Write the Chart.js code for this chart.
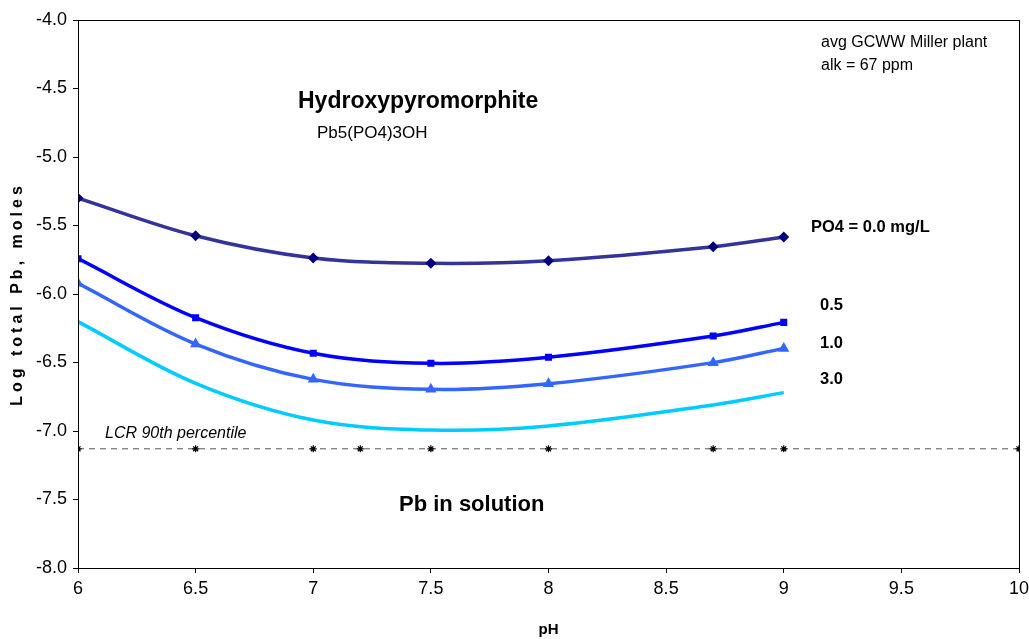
<!DOCTYPE html>
<html lang="en">
<head>
    <meta charset="UTF-8">
    <title>Hydroxypyromorphite solubility</title>
    <style>
        html, body { margin: 0; padding: 0; background: #fff; }
        #wrap { width: 1029px; height: 639px; }
    </style>
</head>
<body>
<div id="wrap"><canvas id="pbChart"></canvas></div>

<script src="https://cdn.jsdelivr.net/npm/chart.js"></script>
<script>
    // pH points where the model was evaluated
    const phValues = [6, 6.5, 7, 7.5, 8, 8.7, 9];

    // log total Pb (moles) for each orthophosphate dose
    const po4_00 = [-5.300, -5.575, -5.737, -5.776, -5.757, -5.655, -5.584];
    const po4_05 = [-5.742, -6.173, -6.433, -6.506, -6.462, -6.307, -6.207];
    const po4_10 = [-5.922, -6.365, -6.623, -6.696, -6.655, -6.501, -6.397];
    const po4_30 = [-6.202, -6.652, -6.920, -6.993, -6.963, -6.810, -6.720];

    // LCR 90th percentile reference line
    const lcrPh = [6, 6.5, 7, 7.2, 7.5, 8, 8.7, 9, 10];
    const lcrValues = [-7.13, -7.13, -7.13, -7.13, -7.13, -7.13, -7.13, -7.13, -7.13];

    const yTicks = [-8.0, -7.5, -7.0, -6.5, -6.0, -5.5, -5.0, -4.5, -4.0];
    const xTicks = [6, 6.5, 7, 7.5, 8, 8.5, 9, 9.5, 10];

    function toPoints(xs, ys) {
        return xs.map((x, i) => ({ x: x, y: ys[i] }));
    }

    const FONT = '"Liberation Sans", Arial, sans-serif';

    // textes libres + cadre du graphique
    const notesPlugin = {
        id: 'notes',
        afterDraw(chart) {
            const ctx = chart.ctx;
            const a = chart.chartArea;
            ctx.save();
            ctx.strokeStyle = '#000';
            ctx.lineWidth = 1;
            ctx.strokeRect(a.left + 0.5, a.top + 0.5, a.right - a.left, a.bottom - a.top);

            ctx.fillStyle = '#000';
            ctx.textBaseline = 'middle';
            ctx.textAlign = 'left';

            ctx.font = 'bold 23px ' + FONT;
            ctx.fillText('Hydroxypyromorphite', 298, 102);
            ctx.font = '17px ' + FONT;
            ctx.fillText('Pb5(PO4)3OH', 317, 133);

            ctx.font = '16px ' + FONT;
            ctx.fillText('avg GCWW Miller plant', 821, 43);
            ctx.fillText('alk = 67 ppm', 821, 66);

            ctx.font = 'bold 16.5px ' + FONT;
            ctx.fillText('PO4 = 0.0 mg/L', 811, 227);
            ctx.fillText('0.5', 820, 305);
            ctx.fillText('1.0', 820, 343);
            ctx.fillText('3.0', 820, 379);

            ctx.font = 'italic 16px ' + FONT;
            ctx.fillText('LCR 90th percentile', 105, 434);

            ctx.font = 'bold 22px ' + FONT;
            ctx.fillText('Pb in solution', 399, 505);

            // titre de l'axe Y (espacé comme dans Excel)
            ctx.translate(18, (a.top + a.bottom) / 2);
            ctx.rotate(-Math.PI / 2);
            ctx.textAlign = 'center';
            ctx.font = 'bold 16px ' + FONT;
            ctx.letterSpacing = '4px';
            ctx.fillText('Log total Pb, moles', 0, 0);
            ctx.restore();
        }
    };

    const ctx = document.getElementById('pbChart').getContext('2d');
    new Chart(ctx, {
        type: 'scatter',
        data: {
            datasets: [
                {
                    label: 'PO4 = 0.0 mg/L',
                    data: toPoints(phValues, po4_00),
                    showLine: true,
                    borderColor: '#333399',
                    borderWidth: 3.5,
                    pointStyle: 'rectRot',
                    pointRadius: 3,
                    pointBackgroundColor: '#000080',
                    pointBorderColor: '#000080',
                    tension: 0.35
                },
                {
                    label: '0.5',
                    data: toPoints(phValues, po4_05),
                    showLine: true,
                    borderColor: '#0000FF',
                    borderWidth: 3.5,
                    pointStyle: 'rect',
                    pointRadius: 2.5,
                    pointBackgroundColor: '#0000FF',
                    pointBorderColor: '#0000FF',
                    tension: 0.35
                },
                {
                    label: '1.0',
                    data: toPoints(phValues, po4_10),
                    showLine: true,
                    borderColor: '#3366FF',
                    borderWidth: 3.5,
                    pointStyle: 'triangle',
                    pointRadius: 3,
                    pointBackgroundColor: '#3366FF',
                    pointBorderColor: '#3366FF',
                    tension: 0.35
                },
                {
                    label: '3.0',
                    data: toPoints(phValues, po4_30),
                    showLine: true,
                    borderColor: '#00CCFF',
                    borderWidth: 3.5,
                    pointRadius: 0,
                    tension: 0.35
                },
                {
                    label: 'LCR 90th percentile',
                    data: toPoints(lcrPh, lcrValues),
                    showLine: true,
                    borderColor: '#555555',
                    borderWidth: 1,
                    borderDash: [6, 5],
                    pointStyle: 'star',
                    pointRadius: 3.5,
                    pointBorderColor: '#000',
                    pointBorderWidth: 1.2,
                    tension: 0
                }
            ]
        },
        options: {
            responsive: true,
            maintainAspectRatio: false,
            animation: false,
            layout: { padding: { top: 20, right: 0, left: 0, bottom: 0 } },
            plugins: {
                legend: { display: false },
                tooltip: { enabled: false }
            },
            scales: {
                x: {
                    type: 'linear',
                    min: 6,
                    max: 10,
                    afterBuildTicks: (s) => { s.ticks = xTicks.map(v => ({ value: v })); },
                    afterFit: (s) => { s.height = 71; s.paddingRight = 10; s.paddingLeft = 0; },
                    grid: { drawOnChartArea: false, drawTicks: true, tickLength: 5, color: '#000' },
                    border: { color: '#000', width: 1 },
                    ticks: {
                        color: '#000',
                        font: { family: FONT, size: 18 },
                        padding: 5,
                        maxRotation: 0,
                        callback: (v) => String(v)
                    },
                    title: {
                        display: true,
                        text: 'pH',
                        color: '#000',
                        font: { family: FONT, size: 15, weight: 'bold' },
                        padding: { top: 6, bottom: 0 }
                    }
                },
                y: {
                    min: -8,
                    max: -4,
                    afterBuildTicks: (s) => { s.ticks = yTicks.map(v => ({ value: v })); },
                    afterFit: (s) => { s.width = 78; },
                    grid: { drawOnChartArea: false, drawTicks: true, tickLength: 5, color: '#000' },
                    border: { color: '#000', width: 1 },
                    ticks: {
                        color: '#000',
                        font: { family: FONT, size: 18 },
                        padding: 6,
                        callback: (v) => v.toFixed(1)
                    }
                }
            }
        },
        plugins: [notesPlugin]
    });
</script>
</body>
</html>
